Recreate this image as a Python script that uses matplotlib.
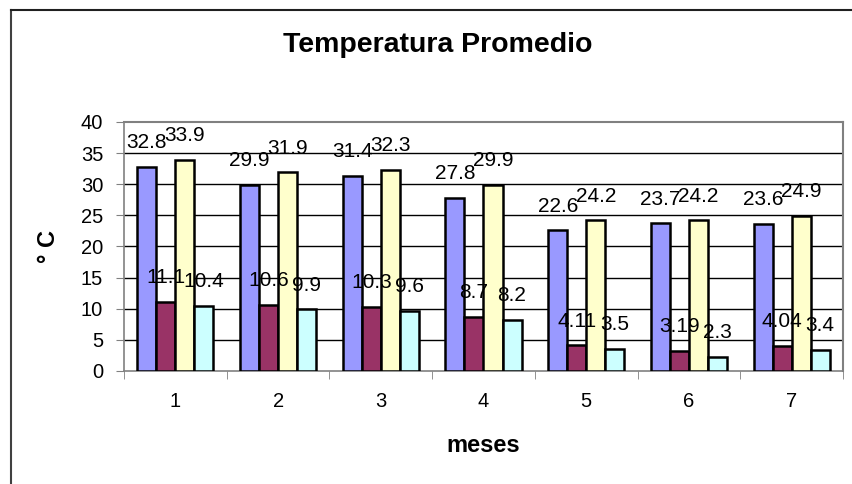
import numpy as np
import matplotlib.pyplot as plt
from matplotlib.lines import Line2D

plt.rcParams['font.family'] = ['Liberation Sans', 'DejaVu Sans']

meses = ['1', '2', '3', '4', '5', '6', '7']
serie_1 = [32.8, 29.9, 31.4, 27.8, 22.6, 23.7, 23.6]
serie_2 = [11.1, 10.6, 10.3, 8.7, 4.11, 3.19, 4.04]
serie_3 = [33.9, 31.9, 32.3, 29.9, 24.2, 24.2, 24.9]
serie_4 = [10.4, 9.9, 9.6, 8.2, 3.5, 2.3, 3.4]
y_ticks = [0, 5, 10, 15, 20, 25, 30, 35, 40]

colores = ['#9999FF', '#993366', '#FFFFCC', '#CCFFFF']

W, H = 853, 484
fig = plt.figure(figsize=(W / 100, H / 100), dpi=100)
ax = fig.add_axes([124 / W, 1 - 371 / H, (843 - 124) / W, (371 - 122) / H])

x = np.arange(len(meses))
bw = 0.185
series = [serie_1, serie_2, serie_3, serie_4]
for i, (vals, c) in enumerate(zip(series, colores)):
    pos = x + (i - 1.5) * bw
    ax.bar(pos, vals, width=bw, color=c, edgecolor='black', linewidth=1.8, zorder=3)
    for px, v in zip(pos, vals):
        ax.annotate(f'{v:g}', (px, v), xytext=(0, 17.5), textcoords='offset points',
                    ha='center', va='center', fontsize=15, zorder=4)

# gridlines (top one is the gray border of the plot area)
for t in y_ticks[1:-1]:
    ax.axhline(t, color='black', linewidth=1.0, zorder=1)

ax.set_xlim(-0.5, len(meses) - 0.5)
ax.set_ylim(0, 40)
ax.set_yticks(y_ticks)
ax.set_yticklabels([str(t) for t in y_ticks], fontsize=14.5)
ax.set_xticks(x)
ax.set_xticklabels(meses, fontsize=14.5)
ax.set_xticks(np.arange(len(meses) + 1) - 0.5, minor=True)
ax.tick_params(axis='x', which='major', length=0, pad=15)
ax.tick_params(axis='x', which='minor', length=6, color='#808080', direction='out')
ax.tick_params(axis='y', length=6, color='#808080', pad=9)

for s in ['top', 'right']:
    ax.spines[s].set_color('#808080')
    ax.spines[s].set_linewidth(1.5)
for s in ['left', 'bottom']:
    ax.spines[s].set_color('#808080')
    ax.spines[s].set_linewidth(1.2)

ax.set_xlabel('meses', fontsize=17, fontweight='bold', labelpad=17)
ax.set_ylabel('° C', fontsize=17, fontweight='bold', labelpad=15)
fig.text(438 / W, 1 - 45 / H, 'Temperatura Promedio', ha='center', va='center',
         fontsize=20.5, fontweight='bold')

# outer chart border
fig.add_artist(Line2D([11 / W, 11 / W], [0, 1 - 10 / H], transform=fig.transFigure,
                      color='#404040', linewidth=1.5))
fig.add_artist(Line2D([11 / W, 1], [1 - 10 / H, 1 - 10 / H], transform=fig.transFigure,
                      color='#202020', linewidth=1.5))

fig.savefig('out.png', dpi=100)
